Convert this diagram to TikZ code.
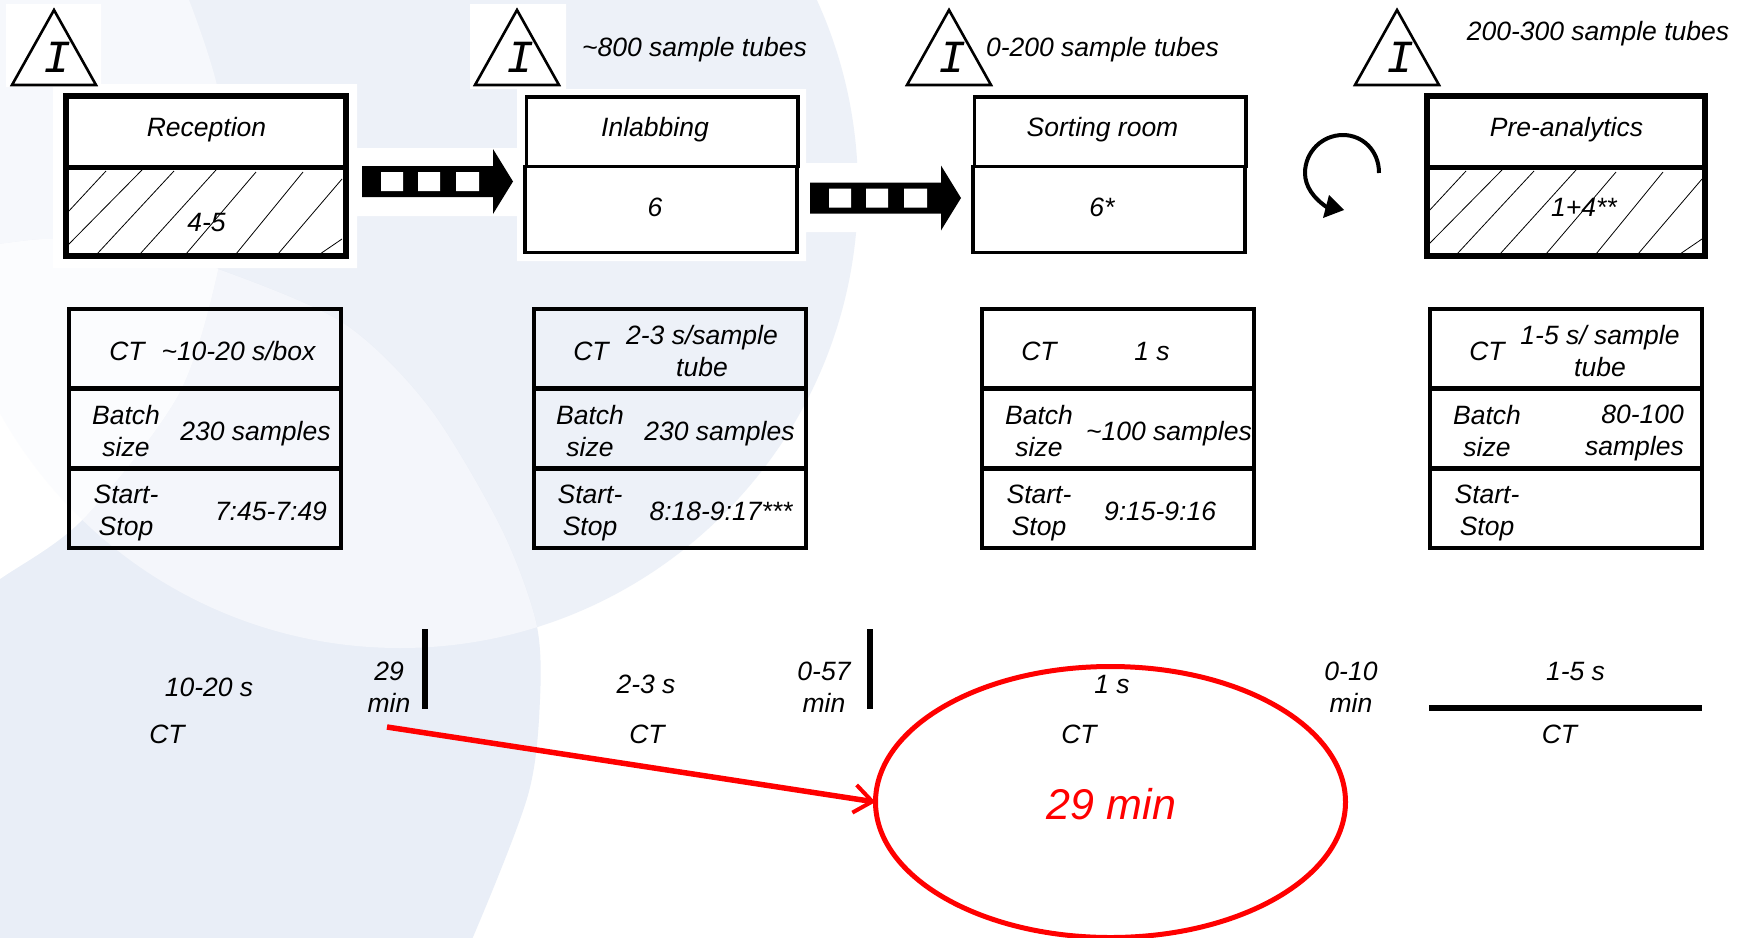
\documentclass[tikz,border=0pt]{standalone}
\usepackage{fontspec}
\setmainfont{Liberation Sans}
\newfontfamily\monoI{Liberation Mono}
\usetikzlibrary{shapes.geometric,arrows.meta}
\definecolor{bgA}{HTML}{EDF1F8}
\definecolor{bgDark}{HTML}{E9EEF7}
\definecolor{bgLens}{HTML}{F4F6FB}
\definecolor{bgTop}{HTML}{F6F8FC}
\definecolor{bgNear}{HTML}{FBFCFE}
\definecolor{redline}{HTML}{FF0000}
\newcommand{\xbox}[6]{% name, x1,y1,x2,y2, style
  \pgfmathsetmacro{\bw}{#4-#2}\pgfmathsetmacro{\bh}{#5-#3}
  \pgfmathsetmacro{\bx}{(#2+#4)/2}\pgfmathsetmacro{\by}{(#3+#5)/2}
  \node[#6,minimum width=\bw pt,minimum height=\bh pt] (#1) at (\bx,\by) {};}
\newcommand{\tri}[2]{% name, apex x
  \draw[trisym] (#2,10) -- (#2-42,85) -- (#2+42,85) -- cycle;
  \node[isym] (#1) at (#2+3.5,57) {I};}
\newcommand{\tablebox}[2]{% name, left x
  \pgfmathsetmacro{\tr}{#2+272}
  \xbox{#1a}{#2}{309}{\tr}{388.5}{rowbox}
  \xbox{#1b}{#2}{388.5}{\tr}{468.5}{rowbox}
  \xbox{#1c}{#2}{468.5}{\tr}{548}{rowbox}
  \draw[line width=5pt] (#1a.south west) -- (#1a.south east);
  \draw[line width=5pt] (#1b.south west) -- (#1b.south east);}
\newcommand{\hatching}{%
  \draw[hatchline] (68,212)--(106,171) (68,245)--(142,170) (97,254)--(174,171)
    (140,254)--(216,170) (186,254)--(256,172) (236,254)--(303,172)
    (278,254)--(342,179) (320,254)--(342,239);}
\newcommand{\blockarrow}[2]{% x shift, y shift
  \begin{scope}[shift={(#1,#2)}]
  \fill[black] (362,166)--(493,166)--(493,149)--(513,181.5)--(493,214)--(493,197)--(362,197)--cycle;
  \fill[white] (381,172) rectangle (403,191) (418,172) rectangle (440,191) (456,172) rectangle (479,191);
  \end{scope}}
\tikzset{
  txt/.style={font=\fontsize{26.5}{32}\selectfont\itshape,inner sep=0pt,align=center,text=black},
  rowbox/.style={draw=black,line width=3.6pt,inner sep=0pt,outer sep=0pt},
  bigbox/.style={draw=black,fill=white,line width=6pt,inner sep=0pt,outer sep=0pt},
  thinbox/.style={draw=black,fill=white,line width=3.6pt,inner sep=0pt,outer sep=0pt},
  trisym/.style={draw=black,fill=white,line width=2.6pt,line join=miter},
  isym/.style={font=\fontsize{46}{46}\selectfont\monoI\itshape,inner sep=0pt},
  hatchline/.style={black,line width=0.8pt},
  bar/.style={black,line width=6pt}
}
\begin{document}
\begin{tikzpicture}[x=1pt,y=-1pt]
\clip (0,0) rectangle (1747,937);
% background
\fill[white] (0,0) rectangle (1747,937);
\def\circA{(400,190) circle[radius=458pt]}
\def\circD{plot[smooth] coordinates {(-60,252) (0,244) (53,239) (130,245) (218,269) (343,323) (428,406) (500,526) (536,622) (540,699) (528,795) (473,937) (440,1000)} -- (-60,1000) -- cycle}
\def\pathE{plot[smooth] coordinates {(-60,620) (0,579) (82,520) (178,395) (218,269) (226,180) (218,90) (189,0) (160,-60)} -- (-60,-60) -- cycle}
\fill[bgA] \circA;
\fill[bgTop] \pathE;
\fill[bgDark] \circD;
\begin{scope}\clip \circD; \fill[bgLens] \circA;
  \fill[white] \pathE;
  \begin{scope}\clip \pathE; \fill[bgNear] \circA; \end{scope}
\end{scope}
% white plates
\fill[white] (6,4) rectangle (101,87) (53,84) rectangle (357,268)
  (357,148) rectangle (517,216) (470,4) rectangle (566,89) (517,89) rectangle (806,261)
  (806,163) rectangle (941,232);
% triangles
\tri{ia}{54}
\tri{ib}{517}
\tri{ic}{949}
\tri{id}{1397}
% stage boxes
\xbox{ra}{66}{96}{346}{256}{bigbox}
\coordinate (rdl) at (66,167.5);
\coordinate (rdr) at (346,167.5);
\hatching
\draw[line width=4.5pt] (rdl)--(rdr);
\xbox{la}{526.5}{97}{798}{166.5}{thinbox}
\xbox{lb}{525}{166.5}{797}{252.5}{thinbox}
\xbox{sa}{974.5}{97}{1246}{166.5}{thinbox}
\xbox{sb}{973}{166.5}{1245}{252.5}{thinbox}
\xbox{pa}{1427}{96}{1705}{256}{bigbox}
\coordinate (pdl) at (1427,167.5);
\coordinate (pdr) at (1705,167.5);
\begin{scope}[shift={(1360,0)}]\hatching\end{scope}
\draw[line width=4.5pt] (pdl)--(pdr);
% block arrows
\blockarrow{0}{0}
\blockarrow{448}{16.5}
% rotation arrow
\draw[line width=4pt] (1379,173) .. controls (1379,150) and (1362,135) .. (1343,135)
  .. controls (1322,135) and (1305,152) .. (1305,173) .. controls (1305,186) and (1313,198) .. (1328,208);
\fill[black] (1329,195)--(1344,210)--(1323,218)--cycle;
% stage labels
\node[txt] (t1) at (206.5,130) {Reception};
\node[txt] (t2) at (206.5,223) {4-5};
\node[txt] (t3) at (655,130) {Inlabbing};
\node[txt] (t4) at (655,207) {6};
\node[txt] (t5) at (1102.5,130) {Sorting room};
\node[txt] (t6) at (1102,207) {6*};
\node[txt] (t7) at (1566.5,130) {Pre-analytics};
\node[txt] (t8) at (1584,207) {1+4**};
\node[txt] (n1) at (694.5,50) {\textasciitilde 800 sample tubes};
\node[txt] (n2) at (1102.5,50) {0-200 sample tubes};
\node[txt] (n3) at (1598,34) {200-300 sample tubes};
% tables
\tablebox{ta}{69}
\tablebox{tb}{534}
\tablebox{tc}{982}
\tablebox{td}{1430}
\node[txt] (a1) at (127,351) {CT};
\node[txt] (a2) at (238.5,351) {\textasciitilde 10-20 s/box};
\node[txt] (a3) at (126,431) {Batch\\size};
\node[txt] (a4) at (255.5,433.5) {230 samples};
\node[txt] (a5) at (126,513) {Start-\\Stop};
\node[txt] (a6) at (271,511) {7:45-7:49};
\node[txt] (b1) at (591,351) {CT};
\node[txt] (b2) at (702,351.5) {2-3 s/sample\\tube};
\node[txt] (b3) at (590,431) {Batch\\size};
\node[txt] (b4) at (719.5,433.5) {230 samples};
\node[txt] (b5) at (590,513) {Start-\\Stop};
\node[txt] (b6) at (721,511) {8:18-9:17***};
\node[txt] (c1) at (1039,351) {CT};
\node[txt] (c2) at (1152,351.5) {1 s};
\node[txt] (c3) at (1039,431) {Batch\\size};
\node[txt] (c4) at (1169,433.5) {\textasciitilde 100 samples};
\node[txt] (c5) at (1039,513) {Start-\\Stop};
\node[txt] (c6) at (1160,511) {9:15-9:16};
\node[txt] (d1) at (1487,351) {CT};
\node[txt] (d2) at (1600,351.5) {1-5 s/ sample\\tube};
\node[txt] (d3) at (1487,431) {Batch\\size};
\node[txt,align=right,anchor=east] (d4) at (1684,433) {80-100\\samples};
\node[txt] (d5) at (1487,513) {Start-\\Stop};
% timeline
\draw[bar] (425,629) -- (425,709);
\draw[bar] (870,629) -- (870,709);
\draw[bar] (1429,708) -- (1702,708);
\node[txt] (e1) at (209,687) {10-20 s};
\node[txt] (e2) at (167,734.5) {CT};
\node[txt] (e3) at (389,687) {29\\min};
\node[txt] (e4) at (646,684) {2-3 s};
\node[txt] (e5) at (647,734.5) {CT};
\node[txt] (e6) at (824,687) {0-57\\min};
\node[txt] (e7) at (1112,685) {1 s};
\node[txt] (e8) at (1079,734.5) {CT};
\node[txt] (e9) at (1351,687) {0-10\\min};
\node[txt] (e10) at (1575.5,672) {1-5 s};
\node[txt] (e11) at (1559.5,734.5) {CT};
% red ellipse and arrow
\node[ellipse,draw=redline,line width=5pt,minimum width=470pt,minimum height=271pt,inner sep=0pt,outer sep=0pt] (el) at (1110.5,802) {};
\node[txt,font=\fontsize{43}{48}\selectfont\itshape,text=redline] (el29) at (1111.5,804) {29 min};
\coordinate (rs) at (387,727);
\draw[redline,line width=5.5pt,-{Straight Barb[length=18pt,width=28pt,line width=4pt]}] (rs) -- (el.west);
\end{tikzpicture}
\end{document}
